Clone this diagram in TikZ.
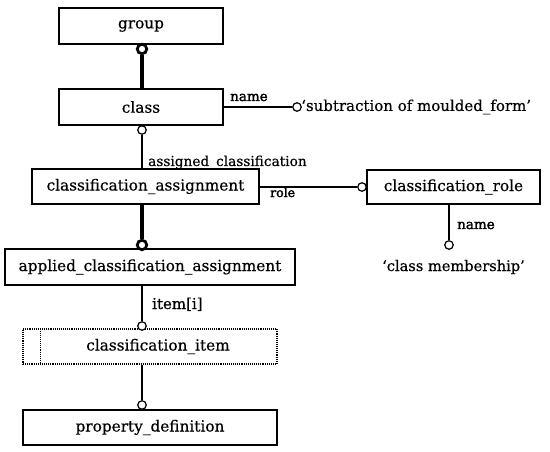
\documentclass[tikz,border=0pt]{standalone}
\usepackage{fontspec}
\setmainfont{DejaVu Serif}[FakeBold=0.5]
\newfontfamily\heavyfont{DejaVu Serif}[FakeBold=2]
\begin{document}
\begin{tikzpicture}[x=1pt,y=-1pt,
  box/.style={draw,line width=1.2pt,minimum height=36pt,inner sep=0pt,font=\fontsize{15.3}{17}\selectfont},
  dbox/.style={draw,densely dotted,line width=1.1pt,minimum height=35pt,inner sep=0pt,font=\fontsize{15.3}{17}\selectfont},
  lbl/.style={inner sep=0pt,font=\fontsize{15}{17}\selectfont},
  blbl/.style={inner sep=0pt,font=\heavyfont\fontsize{13.5}{15}\selectfont},
  oc/.style={circle,draw,fill=white,line width=1.2pt,minimum size=8.5pt,inner sep=0pt},
  tc/.style={circle,draw,fill=white,line width=2.8pt,minimum size=9.5pt,inner sep=0pt},
  thin/.style={line width=1.2pt},
  thick/.style={line width=4.2pt}]
\useasboundingbox (0,0) rectangle (550,452);
\node[box,minimum width=164pt] (group) at (141,26) {group};
\node[box,minimum width=164pt] (class) at (141,107) {class};
\node[box,minimum width=227pt,minimum height=35pt] (ca) at (145.5,186.5) {classification\_assignment};
\node[box,minimum width=173pt,minimum height=34pt] (cr) at (453.5,187) {classification\_role};
\node[box,minimum width=290pt] (aca) at (150,267) {applied\_classification\_assignment};
\node[dbox,minimum width=254pt] (ci) at (150,346.5) {\hspace*{16pt}classification\_item};
\node[box,minimum width=254pt,minimum height=35pt] (pd) at (150,427.5) {property\_definition};
\draw[densely dotted,line width=1.1pt] ([xshift=18pt]ci.north west) -- ([xshift=18pt]ci.south west);
% group - class
\node[tc] (c1) at (142,49) {};
\draw[thick] (c1) -- (c1 |- class.north);
% class name
\node[oc] (c2) at (297,107) {};
\node[lbl,anchor=west] (sub) at (301,107) {‘subtraction of moulded\_form’};
\draw[thin] (class.east |- c2) -- (c2);
\node[blbl,anchor=base west] (nm1) at (230,101) {name};
% class - ca
\node[oc] (c3) at (142,130) {};
\draw[thin] (c3) -- (c3 |- ca.north);
\node[lbl,anchor=base west,font=\fontsize{13.7}{15}\selectfont] (ac) at (148,166) {assigned\_classification};
% ca - cr
\node[oc] (c4) at (362,187) {};
\draw[thin] (ca.east |- c4) -- (c4);
\node[blbl,anchor=base west,font=\heavyfont\fontsize{12.5}{14}\selectfont] (rl) at (270,197) {role};
% cr - membership
\node[oc] (c5) at (449,245) {};
\draw[thin] (c5 |- cr.south) -- (c5);
\node[blbl,anchor=base west] (nm2) at (457,229) {name};
\node[lbl,anchor=base,font=\fontsize{14.6}{16}\selectfont] (cm) at (453.5,271) {‘class membership’};
% ca - aca
\node[tc] (c6) at (142,245) {};
\draw[thick] (c6 |- ca.south) -- (c6);
% aca - ci
\node[oc] (c7) at (142,326) {};
\draw[thin] (c7 |- aca.south) -- (c7);
\node[lbl,anchor=base west] (it) at (152,309) {item[i]};
% ci - pd
\node[oc] (c8) at (142,405) {};
\draw[thin] (c8 |- ci.south) -- (c8);
\end{tikzpicture}
\end{document}
